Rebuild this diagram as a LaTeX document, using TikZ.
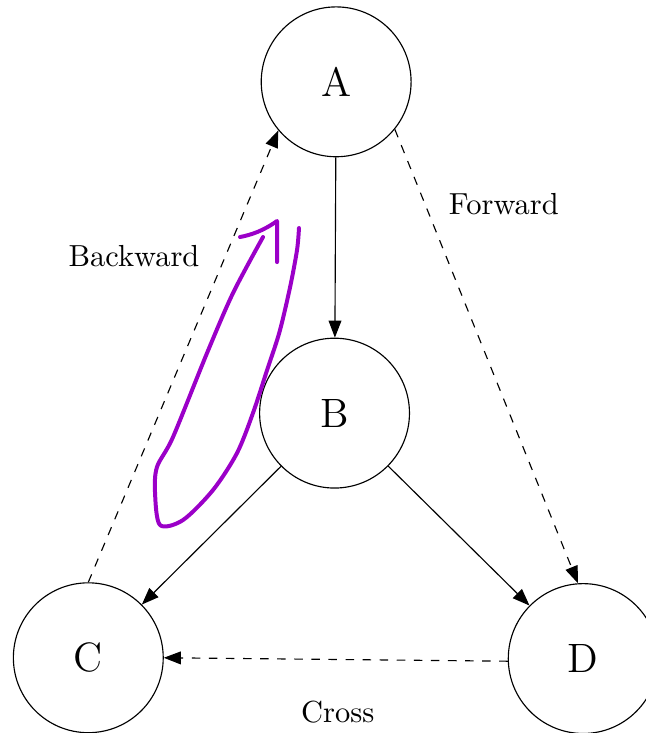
\documentclass[tikz,border=0pt]{standalone}
\usetikzlibrary{arrows.meta}
\definecolor{penpurple}{RGB}{155,0,200}
\tikzset{
  vertex/.style={draw,circle,minimum size=1.85cm,inner sep=0pt,font=\Large},
  edgelabel/.style={font=\fontsize{10.7}{13}\selectfont},
  tree/.style={-{Triangle[length=6pt,width=4.5pt]}},
  nontree/.style={tree,dashed},
  scribble/.style={penpurple,line width=1.4pt,line cap=round,line join=round}
}
\begin{document}
\begin{tikzpicture}

		\useasboundingbox (0,0) rectangle (7.963,-9.049);

		%Vertices
		\node[vertex] (A) at (4.15,-1.01) {A};
		\node[vertex] (B) at (4.13,-5.10) {B};
		\node[vertex] (C) at (1.09,-8.12) {C};
		\node[vertex] (D) at (7.20,-8.13) {D};

		%Tree Edges
		\draw[tree] (A) -- (B);
		\draw[tree] (B) -- (C);
		\draw[tree] (B) -- (D);

		%Forward, Backward and Cross Edges
		\draw[nontree] (A.-39) -- (D.94);
		\draw[nontree] (C.90) -- (A.220);
		\draw[nontree] (D.182) -- (C.east);
		\node[edgelabel] (fwd) at (6.22,-2.52) {Forward};
		\node[edgelabel] (bwd) at (1.654,-3.16) {Backward};
		\node[edgelabel] (crs) at (4.17,-8.79) {Cross};

		%Hand-drawn Loop
		\draw[scribble] plot[smooth,tension=.5] coordinates {(3.691,-2.815) (3.667,-3.086) (3.58,-3.55) (3.45,-4.1) (3.30,-4.56) (3.123,-5.099) (2.926,-5.593) (2.63,-6.049) (2.259,-6.42) (1.975,-6.481) (1.914,-6.086) (1.938,-5.765) (2.136,-5.395) (2.556,-4.358) (2.877,-3.617) (3.247,-2.926)};
		\draw[scribble] (2.963,-2.926) .. controls (3.1,-2.9) and (3.25,-2.85) .. (3.42,-2.728) -- (3.42,-3.235);

	\end{tikzpicture}
\end{document}
